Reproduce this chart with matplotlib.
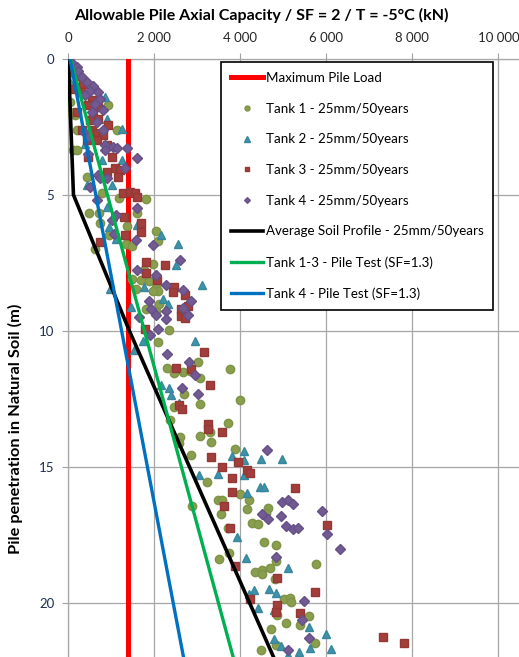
#!/usr/bin/env python3
# pile_capacity.py -- allowable pile axial capacity vs penetration depth

import matplotlib
matplotlib.use("Agg")
import matplotlib.pyplot as plt

plt.rcParams['font.family'] = ['Lato', 'DejaVu Sans']

# ---- data (capacity kN, depth m) ----
max_load = 1380

tank1_cap = [0, 39, 39, 155, 194, 930, 1124, 116, 194, 426, 853, 785, 473,
             1804, 1177, 706, 1608, 730, 1373, 942, 1334, 1490, 2039, 2094, 1961,
             1765, 1490, 1686, 1569, 1882, 2039, 2078, 1961, 1804, 2039, 2118, 627,
             2353, 2078, 2290, 2455, 2666, 2839, 3019, 3074, 3764, 2682, 2447, 3058,
             3999, 2368, 3725, 3294, 3058, 2604, 2572, 3309, 2847, 3866,
             3228, 2873, 3475, 3568, 4000, 4208, 3552, 4154, 4633, 4595, 3707, 4262,
             4417, 4556, 4826, 3745, 3514, 4826, 5752,
             4350, 4505, 4699, 4505, 4816, 5010, 5150, 5181, 4855, 5072, 5399, 5593,
             4715, 4839, 5725, 4490]
tank1_z = [0.55, 1.59, 1.95, 2.07, 2.62, 1.71, 2.62, 3.35, 3.35, 4.33, 4.33, 4.94, 5.67,
           5.14, 5.12, 5.68, 5.68, 6.05, 6.15, 6.48, 6.81, 6.89, 6.32, 6.69, 7.53,
           7.78, 8.09, 8.12, 8.46, 8.15, 8.40, 8.52, 8.52, 9.20, 9.26, 9.01, 6.98,
           9.96, 10.40, 11.37, 11.55, 11.50, 11.49, 11.16, 11.74, 11.40, 12.34, 12.80, 12.70,
           12.54, 13.29, 13.39, 13.72, 13.88, 13.90, 14.11, 14.09, 14.57, 14.35,
           15.58, 16.43, 16.23, 16.23, 16.02, 16.23, 16.75, 16.57, 16.53, 16.72, 17.24, 17.08,
           17.12, 17.76, 17.88, 18.19, 18.39, 18.47, 18.59,
           18.88, 18.80, 18.74, 18.96, 19.13, 19.88, 19.84, 19.99, 20.45, 20.76, 20.82, 20.49,
           20.97, 21.56, 21.50, 21.74]

tank2_cap = [39, 194, 310, 853, 891, 1240, 388, 1240, 775, 426, 1008,
             902, 942, 1098, 1592, 2157, 2549, 2510, 1765, 3098, 2196, 2314, 1451, 2039, 979,
             1726, 1530, 2941, 2157, 2353, 2392, 2572, 3803, 4093, 4093, 4470, 4979,
             3050, 3490, 4093, 4154, 4455, 4556, 3923, 4131,
             5103, 4311, 4660, 4839, 4194, 4404, 4777, 5593, 5981, 4793, 4948, 5360, 5616,
             6098, 5103]
tank2_z = [0.85, 0.98, 1.16, 1.40, 2.20, 2.56, 3.11, 3.72, 3.72, 4.63, 4.63,
           5.43, 6.17, 6.64, 6.11, 6.48, 6.81, 7.59, 8.40, 8.30, 8.83, 9.01, 9.14, 7.90, 8.45,
           10.37, 10.71, 10.37, 12.01, 12.11, 12.35, 12.65, 14.60, 14.43, 14.76, 14.70, 14.70,
           15.31, 15.28, 15.31, 15.98, 15.74, 15.74, 17.57, 18.35,
           18.74, 19.53, 19.50, 19.66, 19.69, 20.18, 20.27, 20.88, 21.16, 21.34, 21.58, 21.80, 21.68,
           21.70, 21.92]

tank3_cap = [16, 54, 78, 155, 233, 349, 62, 295, 543, 465, 698, 194, 581, 504, 698, 930,
             310, 543, 659, 814, 426, 659, 891, 465, 1008, 1085, 891, 1201, 1163, 1279,
             1434, 1550, 1589,
             1290, 1310, 1686, 1686, 746, 1804, 2251, 1804, 2063, 2455, 2431, 2706, 2784,
             2612, 2612, 2706, 1780,
             3152, 2510, 2862, 3294, 2572, 2643, 3239, 3239, 3576, 3317, 3936, 3568, 4156, 4220,
             3799, 3799, 5282, 3629, 3768, 6022, 3870,
             4855, 5733, 4233, 4855, 4839, 5399, 7326, 7808]
tank3_z = [0.12, 0.24, 0.37, 0.43, 0.61, 0.91, 1.10, 1.22, 1.52, 1.71, 1.77, 1.95, 2.07, 2.26, 2.20, 2.44,
           2.62, 2.62, 2.74, 2.80, 2.99, 2.99, 3.17, 3.60, 3.60, 4.02, 4.15, 4.09, 4.33, 4.94,
           4.88, 4.94, 5.06,
           5.80, 6.48, 6.05, 6.36, 6.73, 7.47, 7.59, 7.88, 8.12, 8.40, 8.58, 8.70, 9.07,
           9.20, 9.44, 9.53, 9.94,
           10.79, 11.37, 11.40, 12.01, 12.74, 12.87, 13.41, 13.60, 13.74, 14.63, 14.82, 15.00, 15.12, 15.22,
           15.40, 15.94, 15.77, 16.43, 17.24, 17.14, 18.64,
           19.08, 19.62, 19.87, 20.09, 20.33, 20.37, 21.25, 21.47]

tank4_cap = [116, 194, 233, 310, 426, 581, 504, 698, 736, 388, 620, 543, 814, 659, 814,
             388, 465, 853, 1046, 1124, 1356, 465, 853, 1589, 1318, 698, 736, 504, 891,
             667, 1020, 1098, 1608, 1059, 1569, 1961, 2588, 1608, 2039, 2274, 2666, 2862,
             1882, 1922, 2039, 2274, 2666, 2784, 1647, 2274, 2078,
             1898, 2290, 2800, 2956, 2643, 3027, 4626,
             4980, 5119, 5235, 4494, 4649, 4942, 5058, 5227, 5351, 5907, 6007, 6316, 4826,
             5492, 5438, 5593, 5103]
tank4_z = [0.18, 0.30, 0.43, 0.67, 0.85, 0.98, 1.16, 1.22, 1.46, 1.34, 1.65, 1.95, 1.89, 2.32, 2.62,
           2.74, 2.87, 3.17, 3.23, 3.29, 3.29, 3.48, 3.35, 3.66, 4.02, 4.27, 4.39, 4.70, 4.39,
           5.19, 5.93, 5.74, 5.49, 6.42, 6.67, 6.85, 7.38, 7.78, 7.96, 8.33, 8.49, 8.89,
           8.89, 9.20, 9.41, 9.28, 9.16, 9.41, 9.51, 9.57, 9.94,
           10.16, 10.85, 11.16, 11.62, 12.10, 12.34, 14.39,
           16.29, 16.23, 16.38, 16.75, 16.94, 16.80, 17.18, 17.29, 17.24, 16.63, 17.49, 18.04, 18.33,
           19.94, 20.64, 21.31, 21.74]

avg_cap = [0, 120, 1420, 4800]
avg_z = [0, 5, 10, 22.1]

test13_cap = [50, 3850]
test13_z = [0, 22.1]

test4_cap = [40, 2690]
test4_z = [0, 22.1]

xticks = [0, 2000, 4000, 6000, 8000, 10000]
yticks = [0, 5, 10, 15, 20]

# ---- figure ----
W, H = 519, 657
fig = plt.figure(figsize=(W / 100, H / 100), dpi=100)
ax = fig.add_axes([68.3 / W, 0, 1 - 68.3 / W, 1 - 59 / H])

ax.plot([max_load, max_load], [0, 22.1], color='#FF0000', lw=3.6,
        label='Maximum Pile Load', zorder=3)
ax.plot(tank1_cap, tank1_z, ls='none', marker='o', ms=6.0, color='#8A9F4E',
        mec='#7E9347', label='Tank 1 - 25mm/50years', zorder=4)
ax.plot(tank2_cap, tank2_z, ls='none', marker='^', ms=6.4, color='#3E93AB',
        mec='#37869C', label='Tank 2 - 25mm/50years', zorder=4)
ax.plot(tank3_cap, tank3_z, ls='none', marker='s', ms=5.8, color='#A23F3C',
        mec='#933835', label='Tank 3 - 25mm/50years', zorder=4)
ax.plot(tank4_cap, tank4_z, ls='none', marker='D', ms=4.8, color='#725A93',
        mec='#665087', label='Tank 4 - 25mm/50years', zorder=4)
ax.plot(avg_cap, avg_z, color='black', lw=2.6,
        label='Average Soil Profile - 25mm/50years', zorder=5)
ax.plot(test13_cap, test13_z, color='#00B050', lw=2.4,
        label='Tank 1-3 - Pile Test (SF=1.3)', zorder=5)
ax.plot(test4_cap, test4_z, color='#0070C0', lw=2.4,
        label='Tank 4 - Pile Test (SF=1.3)', zorder=5)

ax.set_xlim(0, 10480)
ax.set_ylim(22.0, 0)
ax.xaxis.tick_top()
ax.set_xticks(xticks)
ax.set_xticklabels([f"{v:,}".replace(",", " ") for v in xticks])
ax.set_yticks(yticks)
ax.tick_params(axis='x', colors='#A0A0A0', labelcolor='#262626', labelsize=9.5,
               length=4, pad=7)
ax.tick_params(axis='y', colors='#A0A0A0', labelcolor='#1F2F4F', labelsize=9.5,
               length=4, pad=6)
ax.grid(True, color='#A6A6A6', lw=0.9)
ax.set_axisbelow(True)
for side in ['right', 'bottom']:
    ax.spines[side].set_visible(False)
for side in ['left', 'top']:
    ax.spines[side].set_color('#A6A6A6')
    ax.spines[side].set_linewidth(0.9)

leg = ax.legend(loc='upper left', bbox_to_anchor=(221 / W, 1 - 62 / H),
                bbox_transform=fig.transFigure, borderaxespad=0,
                fontsize=9.6, frameon=True, fancybox=False, framealpha=1,
                edgecolor='black', handlelength=2.4, handletextpad=0.2,
                labelspacing=1.4, borderpad=0.75, markerscale=0.6)
leg.get_frame().set_linewidth(1.2)
leg.set_zorder(10)

fig.text(261 / W, 1 - 15 / H, 'Allowable Pile Axial Capacity / SF = 2 / T = -5°C (kN)',
         ha='center', va='center', fontsize=11.5, fontweight='bold')
fig.text(15 / W, 1 - 429 / H, 'Pile penetration in Natural Soil (m)',
         ha='center', va='center', rotation=90, fontsize=11.8, fontweight='bold')

fig.savefig('out.png', dpi=100)
